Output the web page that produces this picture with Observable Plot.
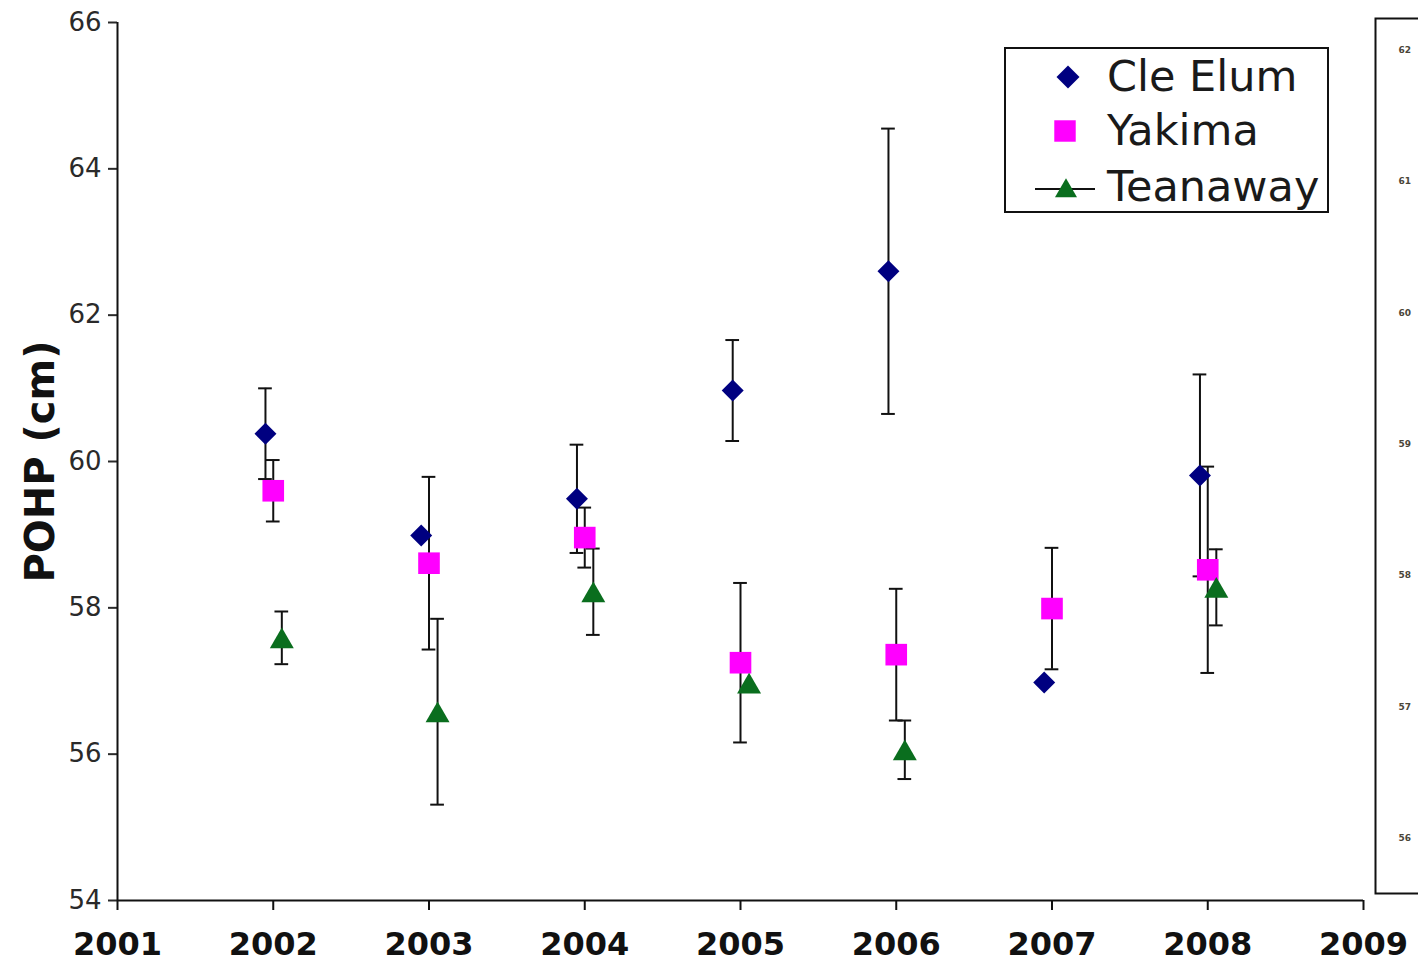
<!DOCTYPE html>
<html><head><meta charset="utf-8">
<script src="https://cdn.jsdelivr.net/npm/d3@7"></script>
<script src="https://cdn.jsdelivr.net/npm/@observablehq/plot@0.6"></script>
<style>
html,body{margin:0;padding:0;background:#fff;overflow:hidden;}
#wrap{position:relative;width:1418px;height:962px;overflow:hidden;font-family:"DejaVu Sans",Verdana,sans-serif;}
#wrap > svg{position:absolute;top:0;}
#legend{position:absolute;left:1004px;top:47px;width:321px;height:162px;border:2px solid #111;background:#fff;}
</style></head><body><div id="wrap"></div>
<script>
// ---- data ----
const years = [2002, 2003, 2004, 2005, 2006, 2007, 2008];
const seriesNames = ["Cle Elum", "Yakima", "Teanaway"];
const cleElum     = [60.38, 58.99, 59.49, 60.97, 62.60, 56.98, 59.81];
const cleElumErr  = [0.62, null, 0.74, 0.69, 1.95, null, 1.38];
const yakima      = [59.60, 58.61, 58.96, 57.25, 57.36, 57.99, 58.52];
const yakimaErr   = [0.42, 1.18, 0.41, 1.09, 0.90, 0.83, 1.41];
const teanaway    = [57.59, 56.58, 58.22, 56.97, 56.06, null, 58.28];
const teanawayErr = [0.36, 1.27, 0.59, null, 0.40, null, 0.52];
const yTicks = [54, 56, 58, 60, 62, 64, 66];
const xTicks = [2001, 2002, 2003, 2004, 2005, 2006, 2007, 2008, 2009];
const rightTicks = [62, 61, 60, 59, 58, 57, 56];
const yTitle = "POHP (cm)";

// ---- styles ----
const styles = {
  "Cle Elum": {color: "#000080", symbol: "diamond2", r: 9.9, offset: -0.05, dy: 0, legendSym: d3.symbolDiamond2, legendSize: 337},
  "Yakima":   {color: "#ff00ff", symbol: "square",   r: 12.2, offset: 0,    dy: 0, legendSym: d3.symbolSquare, legendSize: 460},
  "Teanaway": {color: "#0a6e1e", symbol: "triangle", r: 8.9, offset: 0.055, dy: 3.5, legendSym: d3.symbolTriangle, legendSize: 210}
};
const valuesBy = {"Cle Elum": [cleElum, cleElumErr], "Yakima": [yakima, yakimaErr], "Teanaway": [teanaway, teanawayErr]};

const rows = [];
seriesNames.forEach(name => {
  const [vals, errs] = valuesBy[name];
  years.forEach((yr, i) => {
    if (vals[i] != null) rows.push({series: name, year: yr, x: yr + styles[name].offset, value: vals[i], err: errs[i]});
  });
});
const errRows = rows.filter(d => d.err != null);
const capRows = errRows.flatMap(d => [{x: d.x, y: d.value - d.err}, {x: d.x, y: d.value + d.err}]);
const capHalf = 0.044;

const wrap = document.getElementById("wrap");

const main = Plot.plot({
  width: 1418, height: 962,
  marginLeft: 117, marginRight: 55, marginTop: 22, marginBottom: 62,
  style: {fontFamily: "'DejaVu Sans', Verdana, sans-serif", background: "transparent"},
  x: {domain: [xTicks[0], xTicks[xTicks.length - 1]]},
  y: {domain: [yTicks[0], yTicks[yTicks.length - 1]]},
  marks: [
    Plot.axisY({ticks: yTicks, tickSize: 9, tickPadding: 7, fontSize: 26, color: "#2a2a2a", strokeWidth: 2, label: null}),
    Plot.axisX({ticks: xTicks, tickFormat: d => String(d), tickSize: 10, tickPadding: 22, fontSize: 32, fontWeight: "bold", color: "#111", strokeWidth: 2, label: null}),
    Plot.ruleX([xTicks[0]], {stroke: "#111", strokeWidth: 2}),
    Plot.ruleY([yTicks[0]], {stroke: "#111", strokeWidth: 2}),
    Plot.text([yTitle], {frameAnchor: "left", textAnchor: "middle", rotate: -90, dx: -76, fontSize: 40, fontWeight: "bold", fill: "#111"}),
    Plot.ruleX(errRows, {x: "x", y1: d => d.value - d.err, y2: d => d.value + d.err, stroke: "#111", strokeWidth: 2}),
    Plot.ruleY(capRows, {y: "y", x1: d => d.x - capHalf, x2: d => d.x + capHalf, stroke: "#111", strokeWidth: 2}),
    ...seriesNames.map(name => Plot.dot(rows.filter(d => d.series === name), {
      x: "x", y: "value", symbol: styles[name].symbol, r: styles[name].r, dy: styles[name].dy,
      fill: styles[name].color, stroke: "none"
    }))
  ]
});
main.style.left = "0px";
wrap.appendChild(main);

// right-hand neighbouring panel (cut off)
const side = Plot.plot({
  width: 200, height: 962,
  marginLeft: 1, marginRight: 0, marginTop: 18, marginBottom: 69,
  style: {fontFamily: "'DejaVu Sans', Verdana, sans-serif", background: "transparent"},
  y: {domain: [55.58, 62.24], axis: null},
  marks: [
    Plot.frame({stroke: "#111", strokeWidth: 2}),
    Plot.text(rightTicks, {y: d => d, text: d => String(d), frameAnchor: "left", dx: 23, textAnchor: "start", fontSize: 9, fontWeight: "bold", fill: "#4a4538"})
  ]
});
side.style.left = "1374px";
wrap.appendChild(side);

// legend
const legend = document.createElement("div");
legend.id = "legend";
wrap.appendChild(legend);
const lsvg = d3.select(legend).append("svg").attr("width", 321).attr("height", 162)
  .style("position", "absolute").style("left", "0").style("top", "0");
const legendPos = {"Cle Elum": [62, 28], "Yakima": [59, 82], "Teanaway": [60, 139]};
const legendTextY = {"Cle Elum": 27, "Yakima": 81, "Teanaway": 137};
seriesNames.forEach(name => {
  const [cx, cy] = legendPos[name];
  if (name === "Teanaway") {
    lsvg.append("line").attr("x1", 29).attr("x2", 89).attr("y1", cy + 1).attr("y2", cy + 1).attr("stroke", "#111").attr("stroke-width", 2);
  }
  lsvg.append("path")
    .attr("d", d3.symbol(styles[name].legendSym, styles[name].legendSize)())
    .attr("transform", `translate(${cx},${cy + (name === "Teanaway" ? 3 : 0)})`)
    .attr("fill", styles[name].color);
  lsvg.append("text").attr("x", 101).attr("y", legendTextY[name])
    .attr("dominant-baseline", "central")
    .attr("font-family", "'DejaVu Sans', Verdana, sans-serif")
    .attr("font-size", 43).attr("fill", "#1a1a1a").text(name);
});
</script></body></html>
